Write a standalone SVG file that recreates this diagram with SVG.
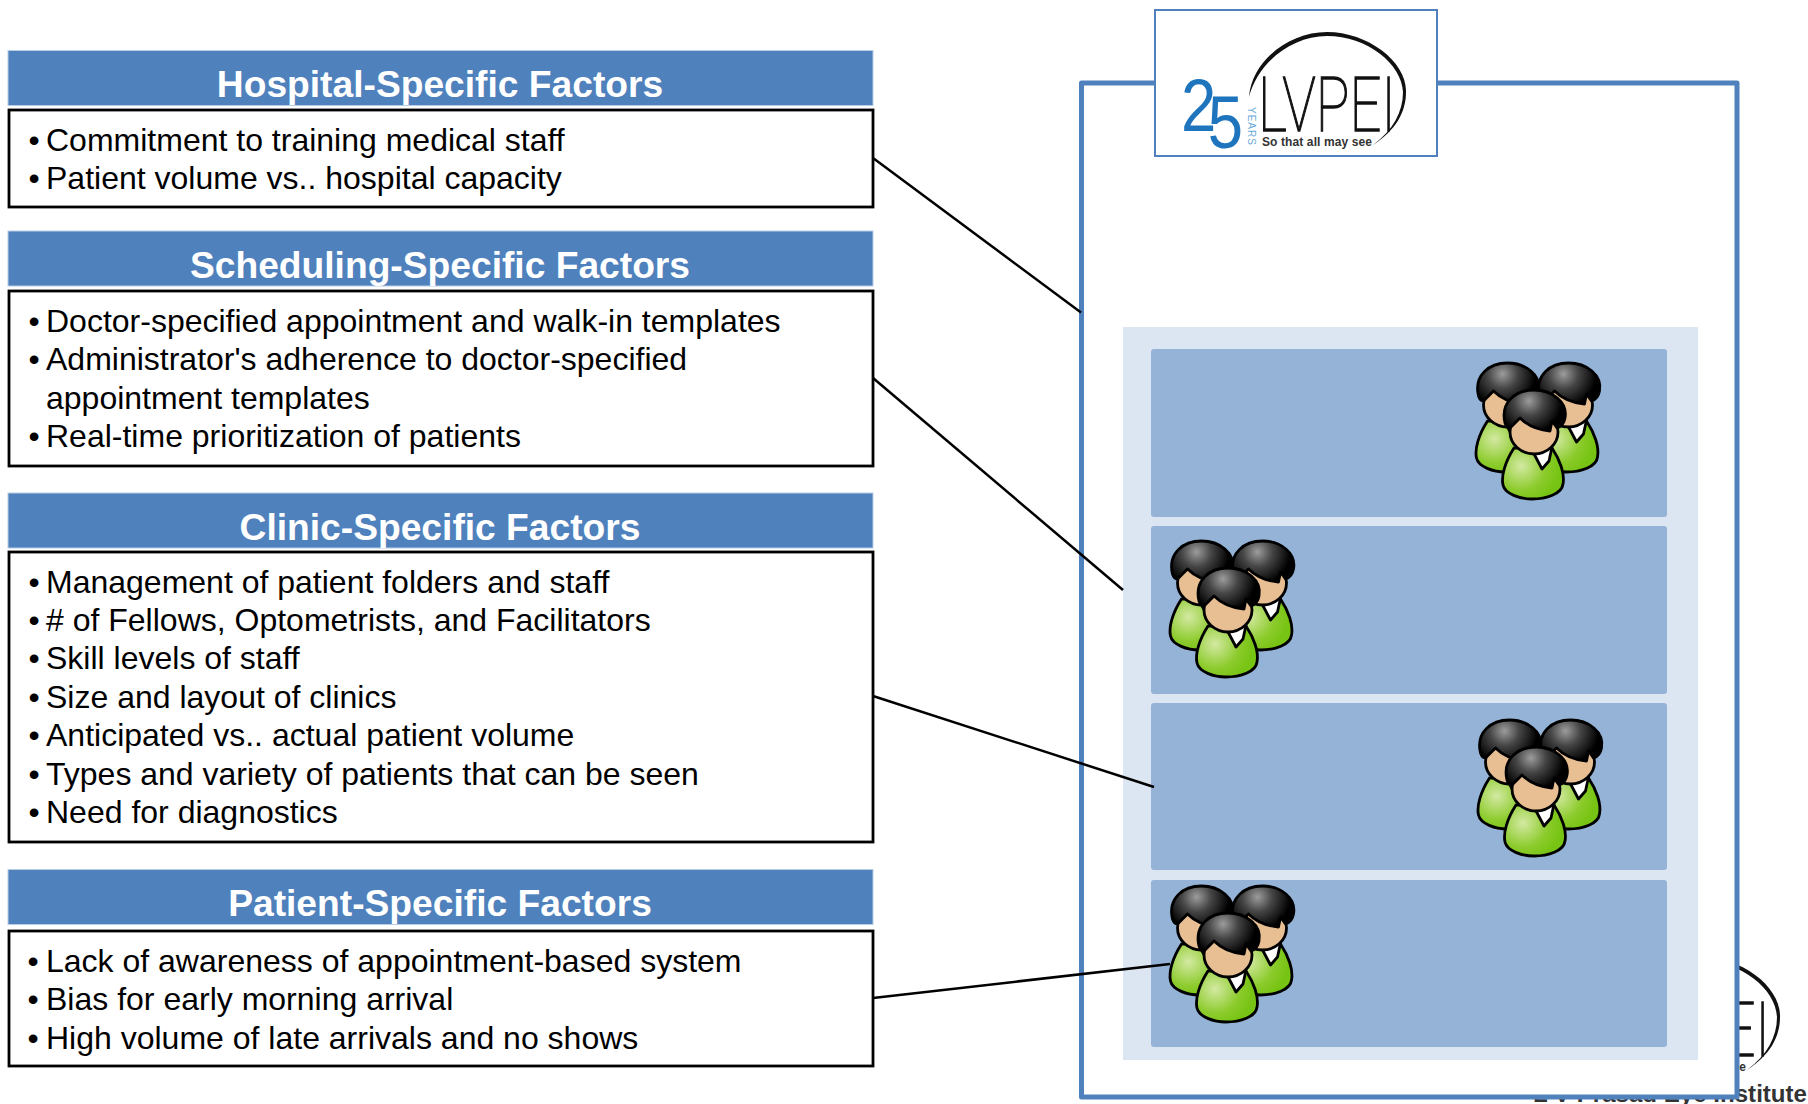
<svg xmlns="http://www.w3.org/2000/svg" xmlns:xlink="http://www.w3.org/1999/xlink" width="1808" height="1104" viewBox="0 0 1808 1104">
<style>
text{font-family:"Liberation Sans",Arial,sans-serif}
.hdr{fill:#4f81bd;stroke:#b9cde5;stroke-width:1}
.box{fill:#fff;stroke:#000;stroke-width:2.8}
.ttl{font-size:37.2px;font-weight:bold;fill:#fff;text-anchor:middle}
.itm{font-size:32px;fill:#000}
.row{fill:#95b3d7}
.con{stroke:#000;stroke-width:2.5;fill:none}
.ol{stroke:#000;stroke-width:2.8;stroke-linejoin:round}
</style>
<defs>
<radialGradient id="hairG" gradientUnits="userSpaceOnUse" cx="-5" cy="11" r="33">
<stop offset="0" stop-color="#9c9c9c"/><stop offset=".45" stop-color="#454545"/><stop offset="1" stop-color="#000"/>
</radialGradient>
<radialGradient id="bodyG" gradientUnits="userSpaceOnUse" cx="-13" cy="76" r="38">
<stop offset="0" stop-color="#d3e9a2"/><stop offset=".65" stop-color="#8ccb2c"/><stop offset="1" stop-color="#78c414"/>
</radialGradient>
<g id="person">
<path class="ol" fill="url(#bodyG)" d="M-20,58C-29,72-33,86-31,95C-29,104-14,109-2,109C12,109 28,104 29,94C31,84 26,70 18,58Z"/>
<path class="ol" fill="#fff" d="M-1,62L18,57L15,71L8,79Z"/>
<ellipse class="ol" cx="0" cy="42" rx="24" ry="22" fill="#e8bf93"/>
<path class="ol" fill="url(#hairG)" d="M-29,33C-34,12-18,0 0,0C18,0 34,12 31,28C30,34 26,37 23,38L18,31L16,41C4,40-6,36-14,28L-24,38C-26,38-28,36-29,33Z"/>
</g>
<g id="people">
<use xlink:href="#person" href="#person" x="32.5" y="1"/>
<use xlink:href="#person" href="#person" x="93.5" y="1"/>
<use xlink:href="#person" href="#person" x="59" y="28"/>
</g>
<g id="logoMark">
<path fill="#111" d="M1249,97C1252,60 1290,32 1327,32C1368,32 1407,62 1406,92C1406,112 1396,130 1373,145C1393,130 1403,112 1403,92C1402,64 1367,36 1327,36C1292,36 1258,62 1249,97Z"/>
<text x="1258" y="131" font-size="76" textLength="138" lengthAdjust="spacingAndGlyphs" style="font-family:Roboto,'Liberation Sans',sans-serif;font-weight:100" fill="#111" stroke="#111" stroke-width="1.3">LVPEI</text>
<text x="1262" y="146" font-size="12" font-weight="bold" textLength="110" lengthAdjust="spacing" fill="#333">So that all may see</text>
</g>
</defs>

<rect width="1808" height="1104" fill="#fff"/>

<g id="hospital-factors">
<rect class="hdr" x="8" y="50.5" width="865" height="55"/>
<text class="ttl" x="440" y="97">Hospital-Specific Factors</text>
<rect class="box" x="9" y="110" width="864" height="97"/>
<text class="itm" x="28.5" y="151">•</text><text class="itm" x="46" y="151">Commitment to training medical staff</text>
<text class="itm" x="28.5" y="189">•</text><text class="itm" x="46" y="189">Patient volume vs.. hospital capacity</text>
</g>

<g id="scheduling-factors">
<rect class="hdr" x="8" y="231" width="865" height="55"/>
<text class="ttl" x="440" y="278">Scheduling-Specific Factors</text>
<rect class="box" x="9" y="291" width="864" height="175"/>
<text class="itm" x="28.5" y="332">•</text><text class="itm" x="46" y="332">Doctor-specified appointment and walk-in templates</text>
<text class="itm" x="28.5" y="370">•</text><text class="itm" x="46" y="370">Administrator's adherence to doctor-specified</text>
<text class="itm" x="46" y="409">appointment templates</text>
<text class="itm" x="28.5" y="447">•</text><text class="itm" x="46" y="447">Real-time prioritization of patients</text>
</g>

<g id="clinic-factors">
<rect class="hdr" x="8" y="493" width="865" height="55"/>
<text class="ttl" x="440" y="540">Clinic-Specific Factors</text>
<rect class="box" x="9" y="552" width="864" height="290"/>
<text class="itm" x="28.5" y="592.5">•</text><text class="itm" x="46" y="592.5">Management of patient folders and staff</text>
<text class="itm" x="28.5" y="630.5">•</text><text class="itm" x="46" y="630.5"># of Fellows, Optometrists, and Facilitators</text>
<text class="itm" x="28.5" y="669">•</text><text class="itm" x="46" y="669">Skill levels of staff</text>
<text class="itm" x="28.5" y="707.5">•</text><text class="itm" x="46" y="707.5">Size and layout of clinics</text>
<text class="itm" x="28.5" y="745.5">•</text><text class="itm" x="46" y="745.5">Anticipated vs.. actual patient volume</text>
<text class="itm" x="28.5" y="784.5">•</text><text class="itm" x="46" y="784.5">Types and variety of patients that can be seen</text>
<text class="itm" x="28.5" y="823">•</text><text class="itm" x="46" y="823">Need for diagnostics</text>
</g>

<g id="patient-factors">
<rect class="hdr" x="8" y="869.5" width="865" height="55"/>
<text class="ttl" x="440" y="916">Patient-Specific Factors</text>
<rect class="box" x="9" y="931" width="864" height="135"/>
<text class="itm" x="27.5" y="971.5">•</text><text class="itm" x="46" y="971.5">Lack of awareness of appointment-based system</text>
<text class="itm" x="27.5" y="1010">•</text><text class="itm" x="46" y="1010">Bias for early morning arrival</text>
<text class="itm" x="27.5" y="1048.5">•</text><text class="itm" x="46" y="1048.5">High volume of late arrivals and no shows</text>
</g>

<g id="background-logo">
<use xlink:href="#logoMark" href="#logoMark" x="374" y="925"/>
<text x="1533" y="1102" font-size="23" font-weight="bold" textLength="274" lengthAdjust="spacingAndGlyphs" fill="#333">L V Prasad Eye Institute</text>
</g>

<g id="clinic-frame">
<rect x="1081.5" y="83" width="655.5" height="1014" fill="#fff" stroke="#4f81bd" stroke-width="5" stroke-linejoin="round"/>
<rect x="1123" y="327" width="575" height="733" fill="#dce6f2"/>
</g>

<g id="logo-box">
<rect x="1155" y="10" width="282" height="146" fill="#fff" stroke="#4f81bd" stroke-width="2"/>
<use xlink:href="#logoMark" href="#logoMark"/>
<text x="1181" y="131" font-size="74" fill="#1f75bd" textLength="62" lengthAdjust="spacingAndGlyphs">2<tspan dx="-10" dy="17">5</tspan></text>
<text transform="translate(1248,107) rotate(90)" font-size="10" letter-spacing="1" fill="#6aa9d8">YEARS</text>
</g>

<g id="row-1"><rect class="row" x="1151" y="349" width="516" height="168" rx="3"/><use xlink:href="#people" href="#people" x="1475" y="362"/></g>
<g id="row-2"><rect class="row" x="1151" y="526" width="516" height="168" rx="3"/><use xlink:href="#people" href="#people" x="1169" y="540"/></g>
<g id="row-3"><rect class="row" x="1151" y="703" width="516" height="167" rx="3"/><use xlink:href="#people" href="#people" x="1477" y="719"/></g>
<g id="row-4"><rect class="row" x="1151" y="880" width="516" height="167" rx="3"/><use xlink:href="#people" href="#people" x="1169" y="885"/></g>

<g id="connectors">
<line class="con" x1="873" y1="158" x2="1081" y2="312.5"/>
<line class="con" x1="873" y1="378" x2="1123" y2="590"/>
<line class="con" x1="873" y1="696" x2="1154" y2="787"/>
<line class="con" x1="873" y1="998" x2="1170" y2="964"/>
</g>
</svg>
